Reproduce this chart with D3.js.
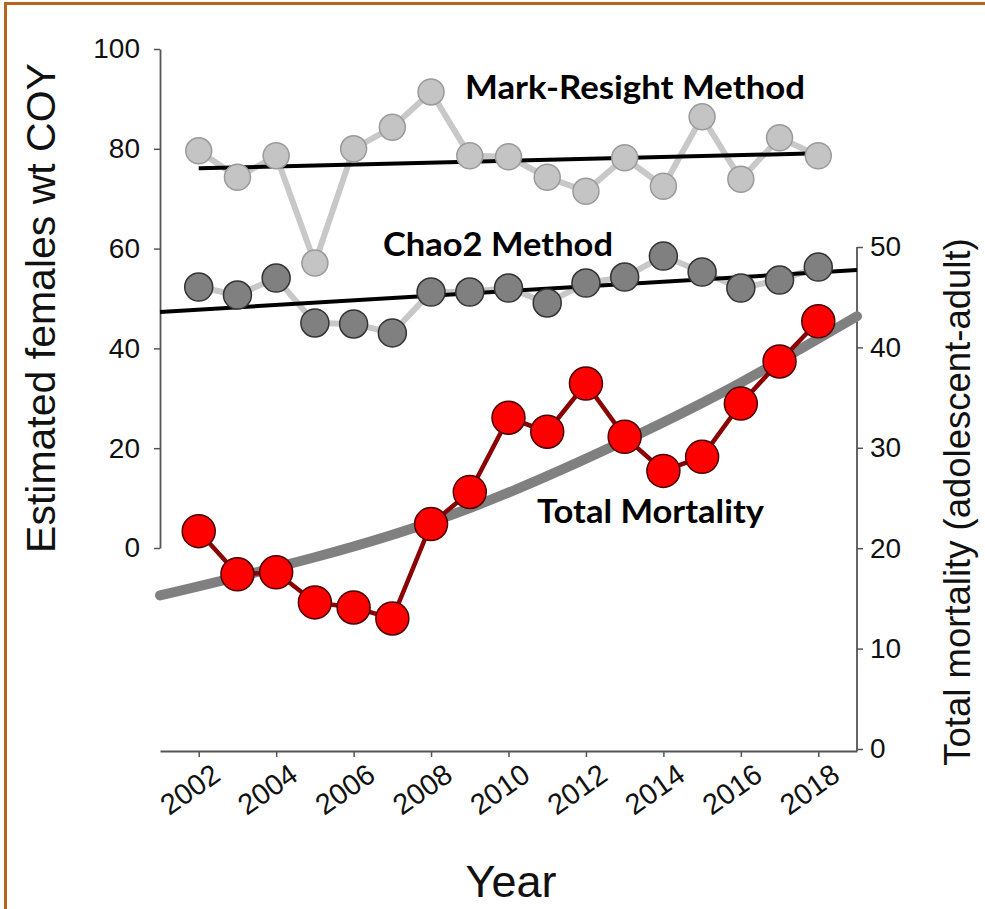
<!DOCTYPE html>
<html>
<head>
<meta charset="utf-8">
<script src="https://cdn.jsdelivr.net/npm/d3@7/dist/d3.min.js"></script>
<style>
  html, body { margin: 0; padding: 0; background: #ffffff; }
  svg { display: block; }
</style>
</head>
<body>
<svg id="chart" width="985" height="909"></svg>
<script>
// ---- data ----
const years = [2002, 2003, 2004, 2005, 2006, 2007, 2008, 2009, 2010, 2011, 2012, 2013, 2014, 2015, 2016, 2017, 2018];
const markResight = [79.6, 74.3, 78.6, 57.1, 80.0, 84.3, 91.4, 78.6, 78.4, 74.3, 71.5, 78.2, 72.5, 86.4, 73.9, 82.2, 78.6];
const chao2 = [52.3, 50.7, 54.1, 45.1, 44.9, 43.1, 51.3, 51.3, 52.1, 49.1, 53.1, 54.3, 58.5, 55.3, 52.1, 53.7, 56.3];
const mortality = [21.7, 17.4, 17.6, 14.6, 14.1, 13.0, 22.4, 25.6, 33.0, 31.6, 36.4, 31.1, 27.7, 29.1, 34.4, 38.6, 42.6];
const markResightTrend = [[2002, 76.1], [2018, 79.1]];
const chao2Trend = [[2001, 47.3], [2019, 55.7]];
const mortalityTrend = [[2001, 15.3], [2005, 19.1], [2009, 24.0], [2013, 30.7], [2016, 36.5], [2019, 43.1]];
const xTicks = [2002, 2004, 2006, 2008, 2010, 2012, 2014, 2016, 2018];
const leftTicks = [0, 20, 40, 60, 80, 100];
const rightTicks = [0, 10, 20, 30, 40, 50];

const svg = d3.select("#chart");
const axisFont = "'Liberation Sans', Arial, sans-serif";
const labelFont = "Lato, 'Open Sans', sans-serif";

// border
svg.append("line").attr("x1", 5.5).attr("x2", 5.5).attr("y1", 2).attr("y2", 909)
  .attr("stroke", "#b8641f").attr("stroke-width", 3);
svg.append("line").attr("x1", 4).attr("x2", 985).attr("y1", 3.5).attr("y2", 3.5)
  .attr("stroke", "#b8641f").attr("stroke-width", 3);

// scales
const x = d3.scaleLinear().domain([2001, 2019]).range([160, 857]);
const yL = d3.scaleLinear().domain([0, 100]).range([548, 49]);
const yR = d3.scaleLinear().domain([0, 50]).range([749, 247]);
const xAxisY = 751;

// axes
const axisColor = "#555";
const gL = svg.append("g").attr("transform", `translate(${x(2001)},0)`)
  .call(d3.axisLeft(yL).tickValues(leftTicks).tickSize(6).tickSizeOuter(0).tickPadding(14));
const gR = svg.append("g").attr("transform", `translate(${x(2019)},0)`)
  .call(d3.axisRight(yR).tickValues(rightTicks).tickSize(6).tickSizeOuter(0).tickPadding(7));
gR.select(".domain").attr("d", `M0,${yR(50)}V${xAxisY}`);
const gX = svg.append("g").attr("transform", `translate(0,${xAxisY})`)
  .call(d3.axisBottom(x).tickValues(xTicks).tickFormat(d3.format("d")).tickSize(6).tickSizeOuter(0));

[gL, gR, gX].forEach(g => {
  g.selectAll(".domain").attr("stroke", axisColor).attr("stroke-width", 1.8);
  g.selectAll(".tick line").attr("stroke", axisColor).attr("stroke-width", 1.5);
  g.selectAll("text").attr("fill", "#111").style("font-family", axisFont).style("font-size", "28px");
});
gX.selectAll(".tick text")
  .style("font-size", "29px")
  .attr("text-anchor", "end")
  .attr("y", 0)
  .attr("dy", "0")
  .attr("transform", "translate(23,28) rotate(-35)");

// axis titles
svg.append("text").attr("transform", `translate(55,308) rotate(-90)`)
  .attr("text-anchor", "middle").style("font-family", axisFont).style("font-size", "41px").attr("fill", "#111")
  .text("Estimated females wt COY");
svg.append("text").attr("transform", `translate(970,502) rotate(-90)`)
  .attr("text-anchor", "middle").style("font-family", axisFont).style("font-size", "36.5px").attr("fill", "#111")
  .text("Total mortality (adolescent-adult)");
svg.append("text").attr("x", 511).attr("y", 897)
  .attr("text-anchor", "middle").style("font-family", axisFont).style("font-size", "45px").attr("fill", "#111")
  .text("Year");

const lineL = d3.line().x(d => x(d[0])).y(d => yL(d[1]));
const lineR = d3.line().x(d => x(d[0])).y(d => yR(d[1]));

// mortality trend curve
svg.append("path").datum(mortalityTrend)
  .attr("d", d3.line().x(d => x(d[0])).y(d => yR(d[1])).curve(d3.curveNatural))
  .attr("fill", "none").attr("stroke", "#808080").attr("stroke-width", 10).attr("stroke-linecap", "round");

// Mark-Resight series
const mrData = years.map((y, i) => [y, markResight[i]]);
svg.append("path").datum(mrData).attr("d", lineL)
  .attr("fill", "none").attr("stroke", "#c8c8c8").attr("stroke-width", 6);
svg.append("path").datum(markResightTrend).attr("d", lineL)
  .attr("fill", "none").attr("stroke", "#000").attr("stroke-width", 4);
svg.append("g").selectAll("circle").data(mrData).join("circle")
  .attr("cx", d => x(d[0])).attr("cy", d => yL(d[1])).attr("r", 13)
  .attr("fill", "#c4c4c4").attr("stroke", "#9a9a9a").attr("stroke-width", 1.5);

// Chao2 series
const chData = years.map((y, i) => [y, chao2[i]]);
svg.append("path").datum(chData).attr("d", lineL)
  .attr("fill", "none").attr("stroke", "#c8c8c8").attr("stroke-width", 6);
svg.append("path").datum(chao2Trend).attr("d", lineL)
  .attr("fill", "none").attr("stroke", "#000").attr("stroke-width", 4);
svg.append("g").selectAll("circle").data(chData).join("circle")
  .attr("cx", d => x(d[0])).attr("cy", d => yL(d[1])).attr("r", 14)
  .attr("fill", "#808080").attr("stroke", "#333").attr("stroke-width", 1.5);

// Mortality series
const moData = years.map((y, i) => [y, mortality[i]]);
svg.append("path").datum(moData).attr("d", lineR)
  .attr("fill", "none").attr("stroke", "#8b0000").attr("stroke-width", 4.5);
svg.append("g").selectAll("circle").data(moData).join("circle")
  .attr("cx", d => x(d[0])).attr("cy", d => yR(d[1])).attr("r", 16.5)
  .attr("fill", "#ff0000").attr("stroke", "#4a0000").attr("stroke-width", 1.5);

// series labels
const labels = [
  { text: "Mark-Resight Method", x: 465, y: 99, w: 340 },
  { text: "Chao2 Method", x: 383, y: 256, w: 230 },
  { text: "Total Mortality", x: 537, y: 523, w: 227 }
];
svg.append("g").selectAll("text").data(labels).join("text")
  .attr("x", d => d.x).attr("y", d => d.y)
  .attr("textLength", d => d.w).attr("lengthAdjust", "spacingAndGlyphs")
  .style("font-family", labelFont).style("font-weight", "bold").style("font-size", "33px")
  .attr("fill", "#000").text(d => d.text);
</script>
</body>
</html>
